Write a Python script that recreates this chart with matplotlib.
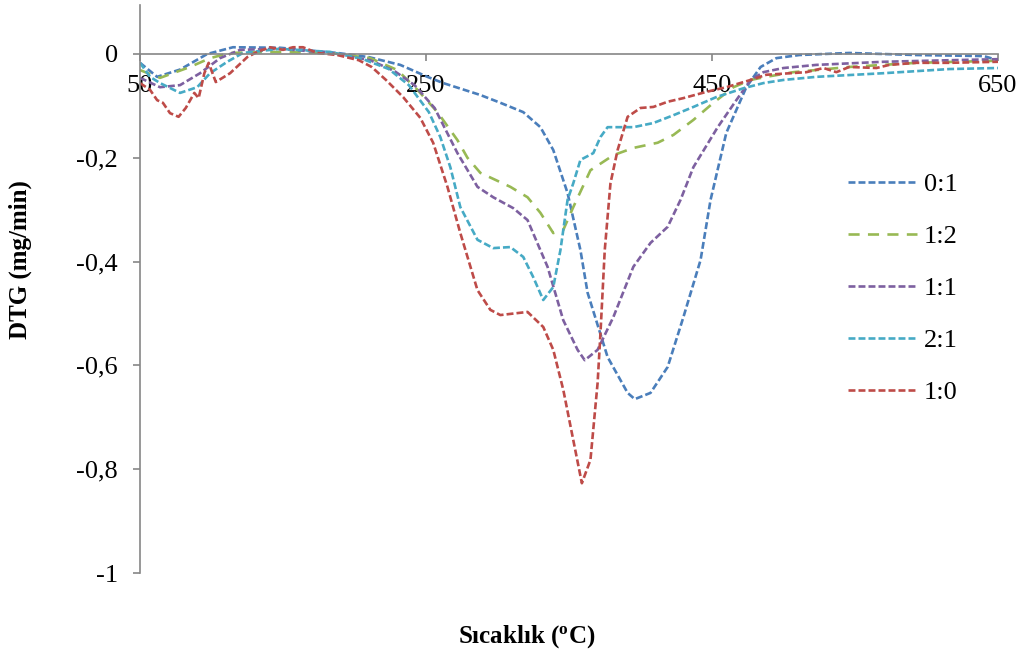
import matplotlib
matplotlib.use("Agg")
import matplotlib.pyplot as plt

plt.rcParams['font.family'] = ['Liberation Serif', 'DejaVu Serif']
plt.rcParams['lines.scale_dashes'] = False

# DTG curves (temperature in degC, DTG in mg/min)
t_01 = [50, 62, 78, 97, 115, 148, 188, 210, 232, 251, 262, 288, 302, 318, 330, 339, 349, 358,
        363, 377, 391, 396, 407, 419, 430, 442, 449, 460, 474, 484, 495, 511, 546, 593, 640, 650]
d_01 = [-0.017, -0.044, -0.030, 0.000, 0.013, 0.012, 0.002, -0.006, -0.021, -0.044, -0.056,
        -0.079, -0.094, -0.112, -0.141, -0.185, -0.268, -0.378, -0.460, -0.584, -0.653, -0.665,
        -0.653, -0.603, -0.507, -0.397, -0.281, -0.152, -0.064, -0.025, -0.008, -0.002, 0.002,
        -0.002, -0.004, -0.012]

t_12 = [50, 64, 85, 99, 113, 141, 183, 211, 230, 244, 258, 272, 279, 288, 309, 321, 330, 339,
        346, 353, 365, 381, 395, 412, 423, 437, 451, 465, 477, 488, 507, 546, 593, 650]
d_12 = [-0.031, -0.046, -0.025, -0.008, 0.002, 0.004, 0.002, -0.008, -0.031, -0.069, -0.112,
        -0.166, -0.200, -0.229, -0.256, -0.276, -0.306, -0.345, -0.339, -0.295, -0.224, -0.195,
        -0.181, -0.171, -0.156, -0.127, -0.094, -0.064, -0.050, -0.044, -0.035, -0.025, -0.017,
        -0.013]

t_11 = [50, 64, 78, 92, 106, 120, 148, 183, 211, 228, 242, 256, 272, 286, 297, 311, 321, 330,
        335, 346, 356, 361, 370, 381, 395, 407, 419, 428, 437, 454, 467, 477, 486, 500, 523,
        570, 616, 650]
d_11 = [-0.046, -0.064, -0.060, -0.037, -0.008, 0.008, 0.010, 0.002, -0.012, -0.033, -0.060,
        -0.104, -0.191, -0.256, -0.276, -0.297, -0.320, -0.378, -0.410, -0.513, -0.570, -0.590,
        -0.570, -0.507, -0.410, -0.364, -0.333, -0.281, -0.218, -0.141, -0.089, -0.050, -0.035,
        -0.027, -0.021, -0.015, -0.012, -0.010]

t_21 = [50, 57, 64, 78, 90, 99, 111, 122, 148, 183, 206, 224, 238, 252, 260, 267, 274, 286,
        297, 309, 318, 325, 332, 339, 344, 349, 353, 358, 367, 372, 377, 395, 409, 423, 437,
        453, 472, 486, 500, 523, 570, 616, 650]
d_21 = [-0.017, -0.044, -0.056, -0.075, -0.064, -0.037, -0.015, 0.002, 0.010, 0.004, -0.010,
        -0.029, -0.060, -0.112, -0.160, -0.218, -0.295, -0.358, -0.374, -0.372, -0.391, -0.430,
        -0.474, -0.449, -0.378, -0.281, -0.249, -0.204, -0.191, -0.160, -0.141, -0.141, -0.133,
        -0.118, -0.102, -0.083, -0.066, -0.056, -0.050, -0.044, -0.037, -0.029, -0.027]

t_10 = [50, 57, 62, 66, 71, 77, 82, 88, 91, 95, 98, 103, 113, 125, 132, 141, 150,
        157, 164, 174, 188, 203, 212, 222, 234, 246, 255, 265, 274, 286, 295, 302, 321, 332, 339,
        346, 353, 359, 365, 370, 372, 375, 379, 384, 391, 400, 409, 419, 430, 446, 460, 477,
        488, 505, 516, 528, 537, 546, 565, 574, 593, 616, 650]
d_10 = [-0.056, -0.069, -0.089, -0.094, -0.114, -0.121, -0.104, -0.075, -0.085, -0.037, -0.017,
        -0.054, -0.037, -0.006, 0.004, 0.013, 0.008, 0.013, 0.013, 0.002, -0.002, -0.012,
        -0.025, -0.050, -0.083, -0.123, -0.171, -0.256, -0.345, -0.455, -0.493,
        -0.503, -0.497, -0.526, -0.570, -0.647, -0.744, -0.827, -0.782, -0.634, -0.538, -0.378,
        -0.249, -0.185, -0.121, -0.104, -0.102, -0.092, -0.085, -0.073, -0.064, -0.050, -0.040,
        -0.037, -0.035, -0.027, -0.035, -0.025, -0.027, -0.021, -0.017, -0.017, -0.015]

labels = ['0:1', '1:2', '1:1', '2:1', '1:0']
x_ticks = [50, 250, 450, 650]
y_ticks = [0, -0.2, -0.4, -0.6, -0.8, -1]
y_tick_labels = ['0', '-0,2', '-0,4', '-0,6', '-0,8', '-1']

series = [(t_01, d_01), (t_12, d_12), (t_11, d_11), (t_21, d_21), (t_10, d_10)]
colors = ['#4A7EBB', '#98B954', '#7D60A0', '#46AAC5', '#BE4B48']
dashes = [(5, 2.2), (8, 6), (5, 2.2), (5, 2.2), (5, 2.2)]

fig = plt.figure(figsize=(10.30, 6.61), dpi=100)
ax = fig.add_axes([140 / 1030, 88 / 661, 858 / 1030, 568 / 661])

for (t, d), c, ds, lab in zip(series, colors, dashes, labels):
    ax.plot(t, d, color=c, lw=1.9, dashes=ds, label=lab)

ax.set_xlim(50, 650)
ax.set_ylim(-1, 0.0944)

for s in ['top', 'right']:
    ax.spines[s].set_visible(False)
ax.spines['bottom'].set_position(('data', 0))
for s in ['left', 'bottom']:
    ax.spines[s].set_color('#868686')
    ax.spines[s].set_linewidth(1.2)

ax.set_xticks(x_ticks)
ax.set_xticklabels([str(v) for v in x_ticks])
ax.set_yticks(y_ticks)
ax.set_yticklabels(y_tick_labels)
ax.tick_params(axis='both', colors='#868686', labelcolor='black', labelsize=19,
               length=5, width=1.2, direction='out')
ax.tick_params(axis='x', pad=10)
ax.tick_params(axis='y', pad=11)

fig.text(20 / 1030, 1 - 260 / 661, 'DTG (mg/min)', rotation=90, ha='center', va='center',
         fontsize=18, fontweight='bold')
fig.text(527 / 1030, 1 - 637 / 661, 'Sıcaklık ($\\mathregular{^o}$C)', ha='center',
         va='center', fontsize=18, fontweight='bold')

ax.legend(loc='upper left', bbox_to_anchor=(848 / 1030, 1 - 173 / 661),
          bbox_transform=fig.transFigure, frameon=False, fontsize=19,
          handlelength=2.6, handletextpad=0.28, labelspacing=1.08, borderpad=0,
          borderaxespad=0)

fig.savefig('out.png', dpi=100)
